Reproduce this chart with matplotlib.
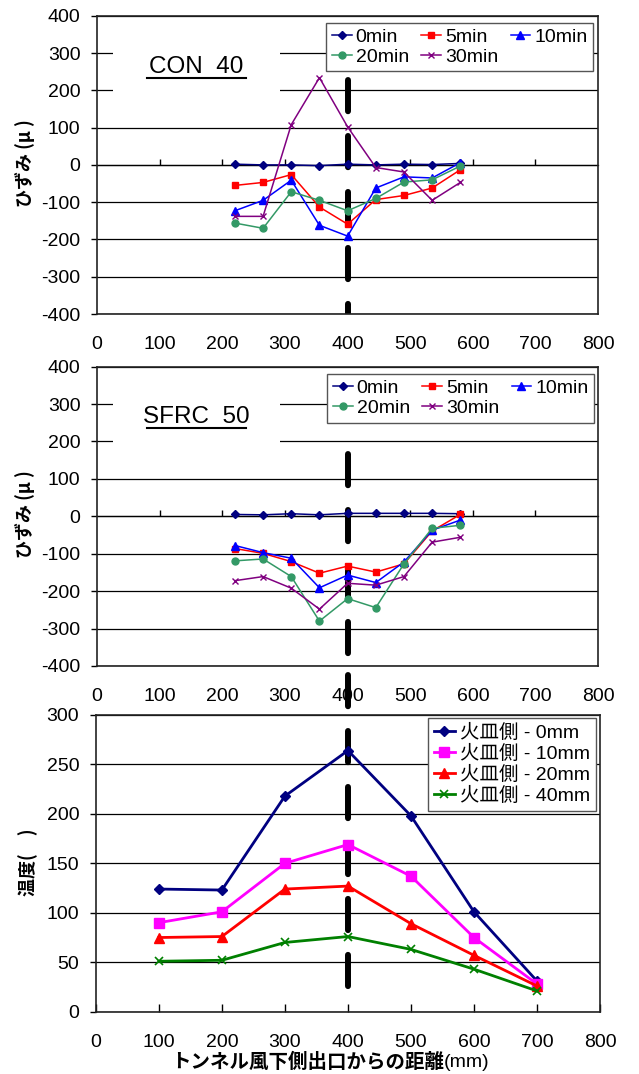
import matplotlib
matplotlib.use("Agg")
import matplotlib.pyplot as plt
from matplotlib.patches import Rectangle

plt.rcParams['font.family'] = ['Liberation Sans', 'Noto Sans CJK JP']
plt.rcParams['font.size'] = 14
plt.rcParams['lines.scale_dashes'] = False
plt.rcParams['axes.unicode_minus'] = False

# strain panels: gauge positions (mm) and strain (micro) per elapsed time
strain_x = [220, 265, 310, 355, 400, 445, 490, 535, 580]
time_labels = ["0min", "5min", "10min", "20min", "30min"]

con40_0 = [2, 0, 0, -2, 2, 0, 2, 1, 4]
con40_5 = [-55, -47, -26, -113, -159, -93, -82, -62, -13]
con40_10 = [-123, -95, -41, -162, -191, -62, -32, -35, 6]
con40_20 = [-156, -170, -72, -95, -123, -90, -46, -40, -3]
con40_30 = [-138, -138, 108, 234, 102, -7, -19, -95, -47]

sfrc50_0 = [5, 4, 7, 4, 8, 8, 8, 8, 7]
sfrc50_5 = [-86, -99, -121, -152, -133, -149, -127, -39, 5]
sfrc50_10 = [-78, -97, -112, -191, -157, -177, -122, -37, -10]
sfrc50_20 = [-119, -114, -161, -280, -220, -244, -127, -32, -24]
sfrc50_30 = [-172, -161, -192, -248, -179, -184, -161, -69, -56]

# temperature panel
temp_x = [100, 200, 300, 400, 500, 600, 700]
depth_labels = ["火皿側 - 0mm", "火皿側 - 10mm", "火皿側 - 20mm", "火皿側 - 40mm"]
temp_0 = [124, 123, 218, 264, 198, 101, 31]
temp_10 = [90, 101, 150, 169, 137, 75, 28]
temp_20 = [75, 76, 124, 127, 89, 57, 26]
temp_40 = [51, 52, 70, 76, 63, 43, 21]

# fire position marker (dashed) and its extent in each panel
fire_x = 400
fire_top = [229, 166, 340]
fire_bottom = [-400, -375, 19]

x_ticks = list(range(0, 801, 100))

strain_styles = [
    dict(color='#000080', marker='D', ms=4),
    dict(color='#ff0000', marker='s', ms=5),
    dict(color='#0000ff', marker='^', ms=5.5),
    dict(color='#339966', marker='o', ms=5),
    dict(color='#800080', marker='x', ms=5, mew=1),
]
temp_styles = [
    dict(color='#000080', marker='D', ms=5),
    dict(color='#ff00ff', marker='s', ms=7),
    dict(color='#ff0000', marker='^', ms=7),
    dict(color='#008000', marker='x', ms=6, mew=1.2),
]


def frame(ax):
    for s in ax.spines.values():
        s.set_color('#222222')
        s.set_linewidth(1.2)
    ax.yaxis.grid(True, color='black', lw=0.9)
    ax.tick_params(axis='y', direction='out', length=4, width=1, pad=8, labelsize=14)
    ax.set_xlim(0, 800)
    ax.set_xticks(x_ticks)


def fire_line(ax, i, clip=True):
    ax.plot([fire_x, fire_x], [fire_top[i], fire_bottom[i]], color='black', lw=4.3,
            linestyle=(0, (22.5, 17.8)), dash_capstyle='round', solid_capstyle='round',
            zorder=2, clip_on=clip)


def strain_panel(ax, series, title, title_y, idx, leg_anchor):
    frame(ax)
    ax.set_ylim(-400, 400)
    ax.set_yticks(range(-400, 401, 100))
    ax.tick_params(axis='x', length=0, pad=16, labelsize=14)
    sec = ax.secondary_xaxis(0.5)
    sec.set_xticks(x_ticks[1:-1])
    sec.tick_params(axis='x', length=4, width=1, labeltop=False, labelbottom=False)
    sec.spines['top'].set_linewidth(0.9)

    fire_line(ax, idx)
    handles = []
    for vals, lab, st in zip(series, time_labels, strain_styles):
        h, = ax.plot(strain_x, vals, lw=1.1, label=lab, zorder=3, **st)
        handles.append(h)

    ax.add_patch(Rectangle((26, 180), 266, 155, facecolor='white', edgecolor='none', zorder=1.8))
    ax.text(158, title_y, title, ha='center', va='baseline', fontsize=17.5, zorder=3)
    ax.plot([80, 238], [title_y - 12, title_y - 12], color='black', lw=1.5, zorder=3)

    order = [0, 3, 1, 4, 2]
    leg = ax.legend([handles[k] for k in order], [time_labels[k] for k in order],
                    ncol=3, loc='upper right', bbox_to_anchor=leg_anchor, borderaxespad=0,
                    fancybox=False, framealpha=1, edgecolor='#555555', fontsize=14,
                    handlelength=1.0, handletextpad=0.2, columnspacing=0.65,
                    labelspacing=0.1, borderpad=0.3)
    leg.get_frame().set_linewidth(1.0)
    leg.set_zorder(5)
    ax.set_ylabel("ひずみ (μ )", fontsize=13, fontweight='bold',
                  family=['Noto Sans CJK JP', 'Liberation Sans'])
    ax.yaxis.set_label_coords(-0.124, 0.507)


fig = plt.figure(figsize=(6.39, 10.74), dpi=100)
ax1 = fig.add_axes([0.152, 0.7076, 0.784, 0.2777])
ax2 = fig.add_axes([0.152, 0.3799, 0.784, 0.2787])
ax3 = fig.add_axes([0.150, 0.0580, 0.789, 0.2763])

strain_panel(ax1, [con40_0, con40_5, con40_10, con40_20, con40_30],
             "CON  40", 246, 0, (0.990, 0.977))
strain_panel(ax2, [sfrc50_0, sfrc50_5, sfrc50_10, sfrc50_20, sfrc50_30],
             "SFRC  50", 249, 1, (0.992, 0.976))

# temperature panel
frame(ax3)
ax3.set_ylim(0, 300)
ax3.set_yticks(range(0, 301, 50))
ax3.tick_params(axis='x', direction='in', length=6, width=1, pad=16, labelsize=14)
fire_line(ax3, 2, clip=False)
for vals, lab, st in zip([temp_0, temp_10, temp_20, temp_40], depth_labels, temp_styles):
    ax3.plot(temp_x, vals, lw=2.0, label=lab, zorder=3, **st)
leg = ax3.legend(loc='upper right', bbox_to_anchor=(0.992, 0.99), borderaxespad=0,
                 fancybox=False, framealpha=1, edgecolor='#555555', fontsize=14,
                 handlelength=1.1, handletextpad=0.25, labelspacing=0.15, borderpad=0.3)
leg.get_frame().set_linewidth(1.0)
leg.set_zorder(5)
ax3.set_ylabel("温度(\u3000)", fontsize=13, fontweight='bold',
               family=['Noto Sans CJK JP', 'Liberation Sans'])
ax3.yaxis.set_label_coords(-0.115, 0.505)

fig.text(0.6948, 0.0105, "トンネル風下側出口からの距離", ha='right', va='center',
         fontsize=14, fontweight='bold', family=['Noto Sans CJK JP', 'Liberation Sans'])
fig.text(0.6948, 0.0105, "(mm)", ha='left', va='center', fontsize=14)

fig.savefig("out.png", dpi=100)
